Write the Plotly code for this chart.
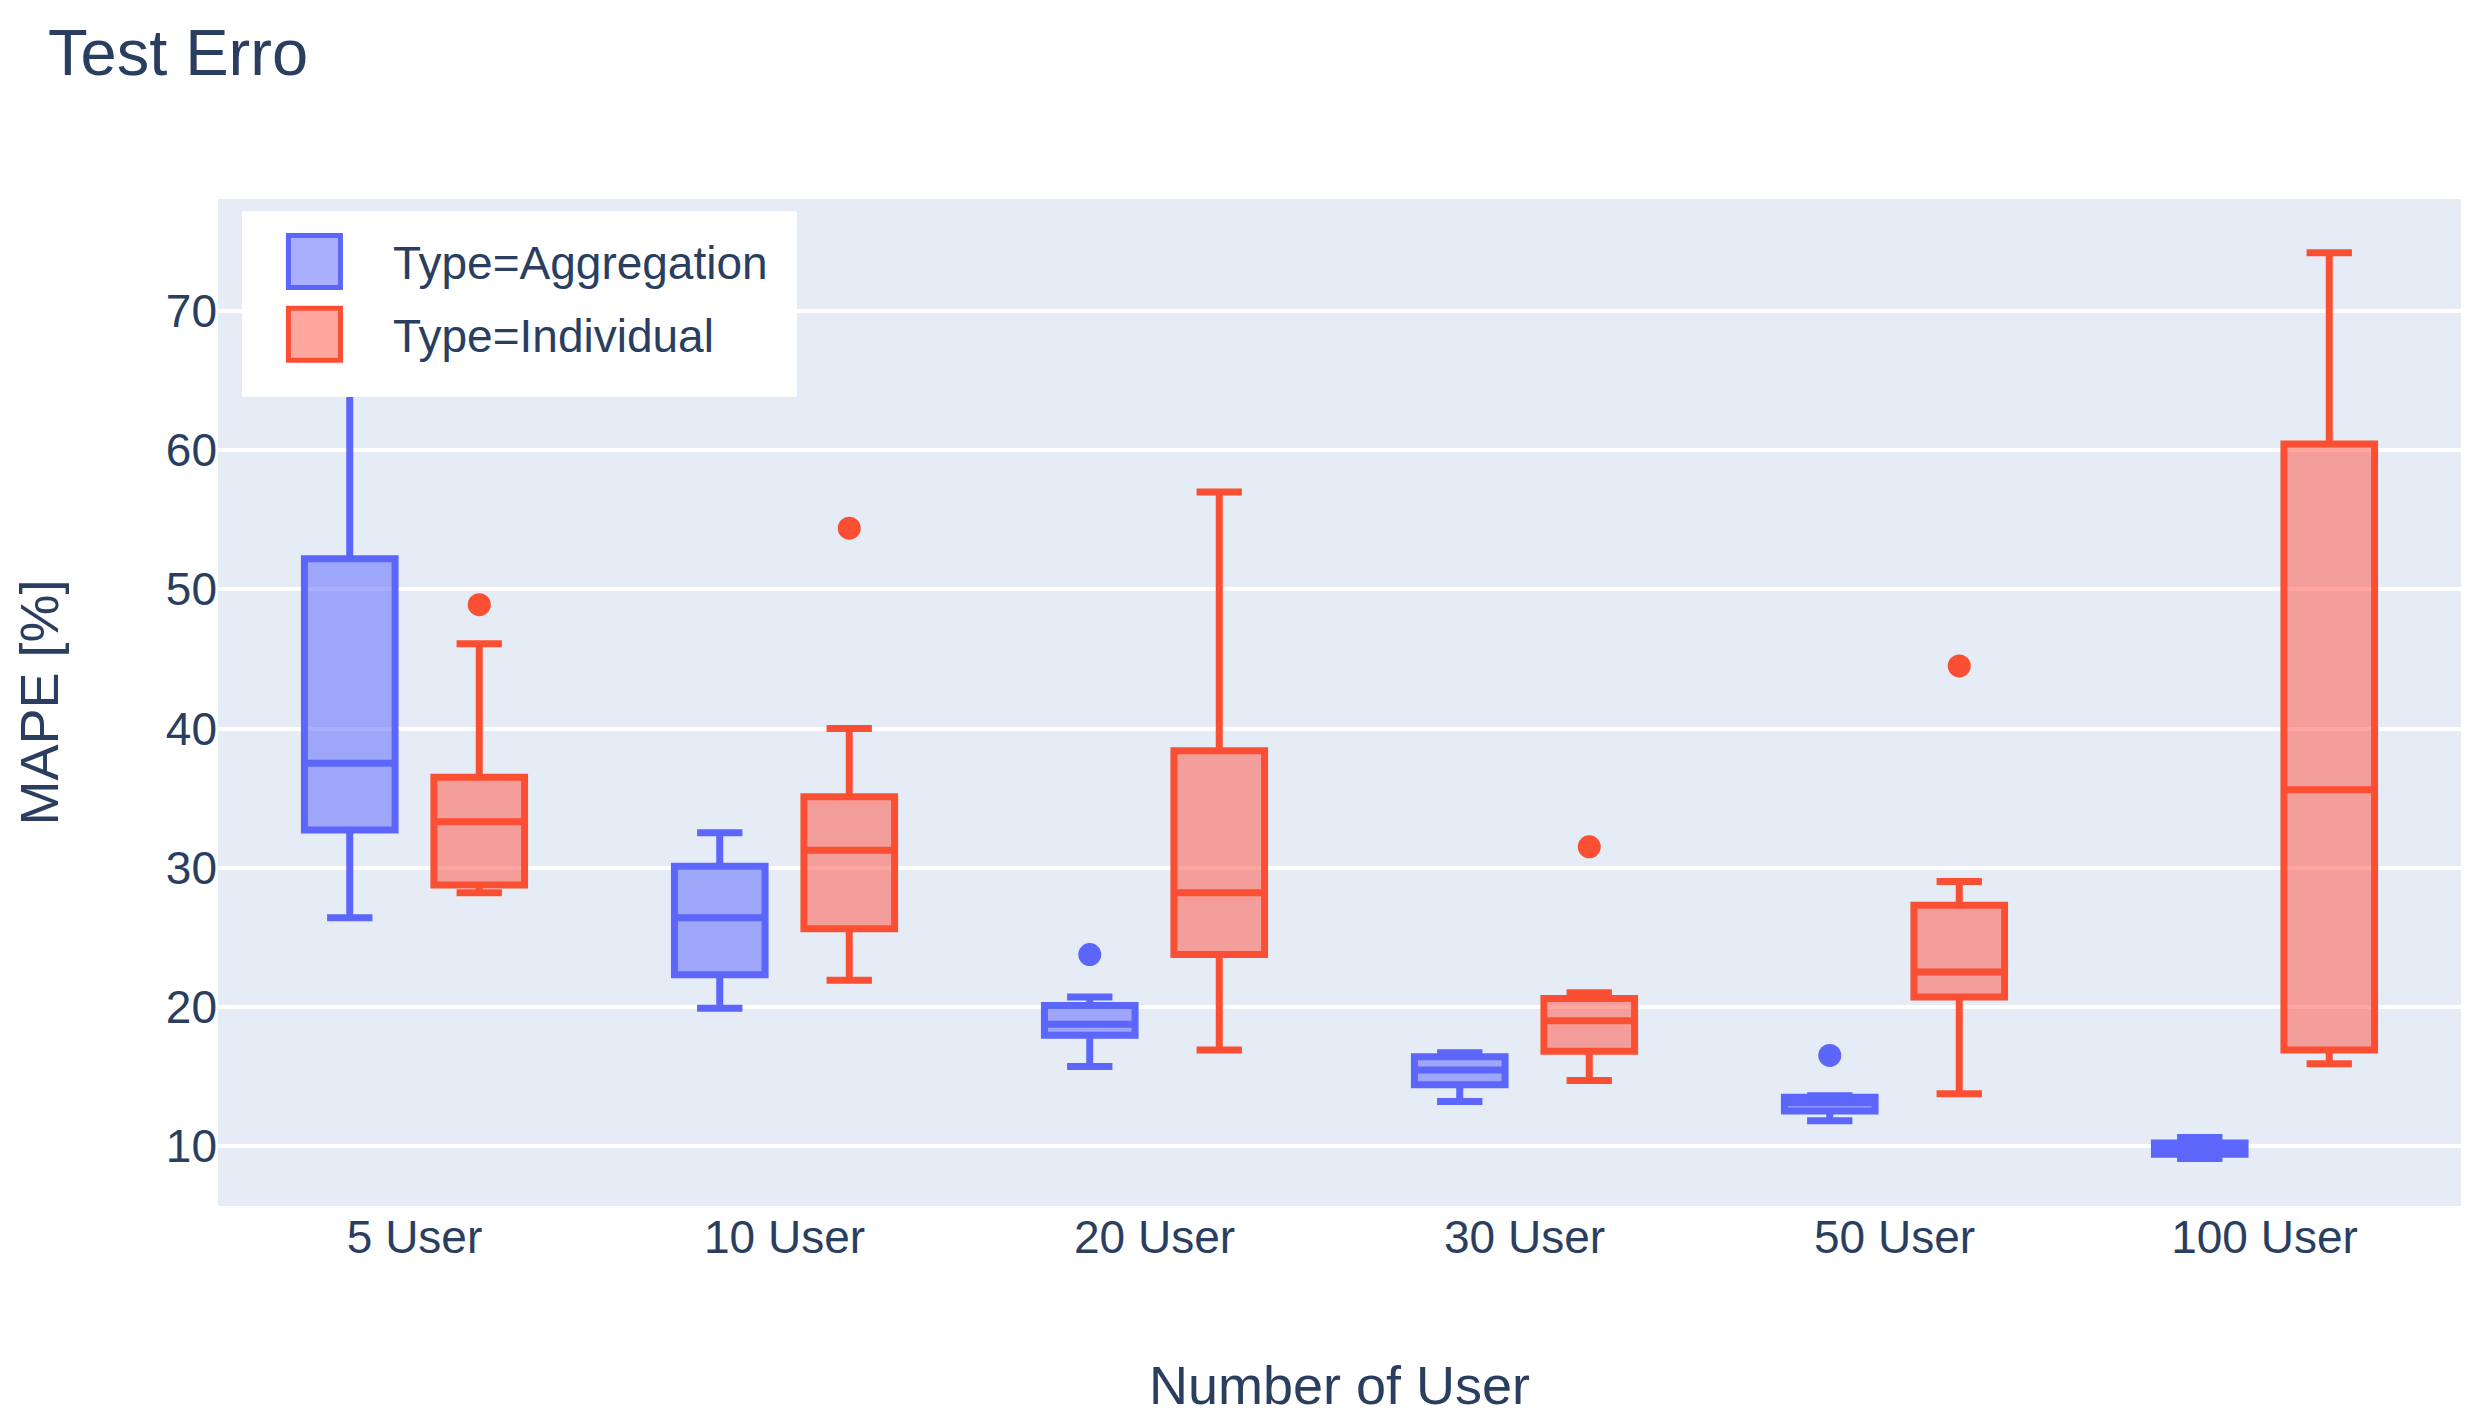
import plotly.graph_objects as go

categories = ["5 User", "10 User", "20 User", "30 User", "50 User", "100 User"]

agg_q1 = [32.7, 22.3, 17.95, 14.4, 12.5, 9.4]
agg_median = [37.5, 26.4, 18.75, 15.45, 13.1, 9.8]
agg_q3 = [52.2, 30.1, 20.1, 16.4, 13.5, 10.2]
agg_low = [26.4, 19.9, 15.7, 13.2, 11.8, 9.1]
agg_high = [66.0, 32.5, 20.7, 16.7, 13.6, 10.6]
agg_outliers = [[], [], [23.75], [], [16.5], []]

ind_q1 = [28.75, 25.6, 23.75, 16.8, 20.7, 16.9]
ind_median = [33.3, 31.25, 28.2, 19.0, 22.5, 35.6]
ind_q3 = [36.5, 35.1, 38.4, 20.6, 27.3, 60.45]
ind_low = [28.2, 21.9, 16.9, 14.7, 13.75, 15.9]
ind_high = [46.1, 40.0, 57.0, 21.0, 29.0, 74.2]
ind_outliers = [[48.9], [54.4], [], [31.5], [44.5], []]

FONT = "Liberation Sans, Arial, sans-serif"
TXT = "#2a3f5f"

fig = go.Figure()
for name, color, fill, q1, med, q3, lo, hi, outl in [
    ("Type=Aggregation", "#5C66FA", "rgba(100,110,252,0.55)",
     agg_q1, agg_median, agg_q3, agg_low, agg_high, agg_outliers),
    ("Type=Individual", "#FA4F33", "rgba(255,95,80,0.55)",
     ind_q1, ind_median, ind_q3, ind_low, ind_high, ind_outliers),
]:
    # sample points: whisker-end values plus the outliers (only outliers are drawn)
    samples = [[a, b] + list(o) for a, b, o in zip(lo, hi, outl)]
    fig.add_trace(go.Box(
        name=name, x=categories, y=samples,
        q1=q1, median=med, q3=q3, lowerfence=lo, upperfence=hi,
        boxpoints="outliers",
        marker=dict(color=color, size=23),
        line=dict(color=color, width=7),
        fillcolor=fill,
        legendgroup=name,
    ))

# white legend panel (legend background, drawn above the traces like the original)
fig.add_shape(type="rect", xref="paper", yref="paper",
              x0=0.0107, x1=0.2581, y0=0.8034, y1=0.9881,
              fillcolor="white", line=dict(width=0), layer="above")

fig.update_layout(
    width=2486, height=1425,
    template="plotly",
    boxmode="group",
    font=dict(family=FONT, size=46, color=TXT),
    title=dict(text="Test Erro", font=dict(size=65, family=FONT, color=TXT),
               x=40 / 2486, xanchor="left", xref="container",
               y=1 - 44 / 1425, yanchor="middle", yref="container"),
    margin=dict(l=210, r=33, t=191, b=227, autoexpand=False),
    plot_bgcolor="#E5ECF6",
    paper_bgcolor="white",
    legend=dict(x=0.0080, y=0.9742, xanchor="left", yanchor="top",
                bgcolor="rgba(0,0,0,0)", font=dict(size=46, family=FONT, color=TXT),
                itemwidth=147, tracegroupgap=10, title_text=""),
    xaxis=dict(title=dict(text="Number of User", font=dict(size=54), standoff=104),
               tickfont=dict(size=46), showgrid=False, automargin=False),
    yaxis=dict(title=dict(text="MAPE [%]", font=dict(size=54), standoff=89),
               tickfont=dict(size=46), range=[5.68, 78.06], gridcolor="white",
               gridwidth=4, zeroline=False, tickvals=[10, 20, 30, 40, 50, 60, 70],
               automargin=False),
)

post = """
var gd = document.getElementById('{plot_id}');
function bigSwatch(){
  gd.querySelectorAll('path.legendbox').forEach(function(p){
    p.setAttribute('d','M26,26H-26V-26H26Z');
  });
}
bigSwatch();
gd.on('plotly_afterplot', bigSwatch);
"""
fig.write_html("out.html", post_script=post)
